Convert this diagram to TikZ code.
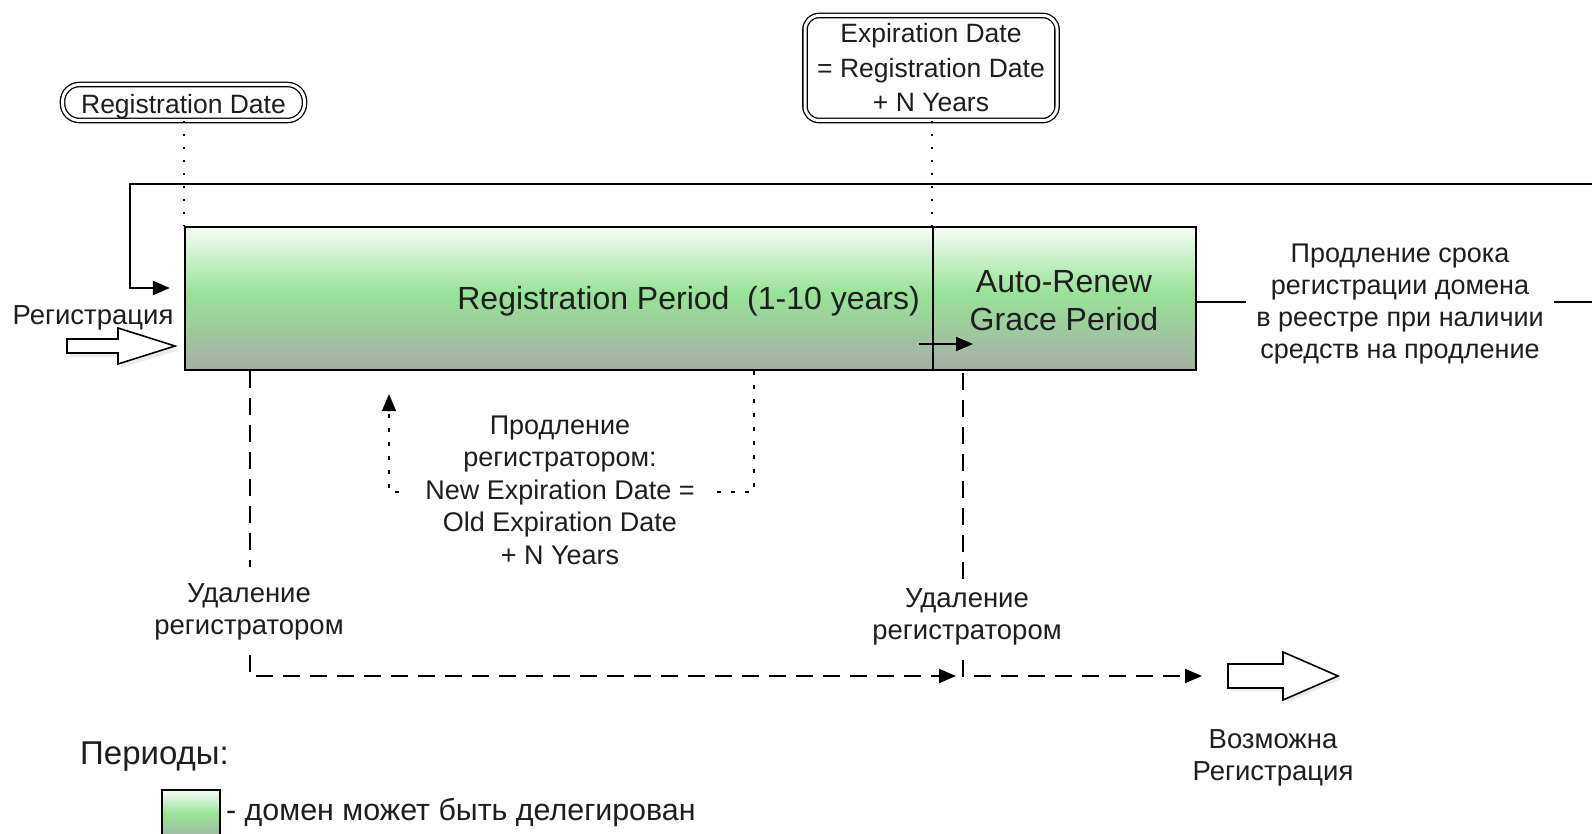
\documentclass[tikz,border=0pt]{standalone}
\usepackage{fontspec}
\setmainfont{Liberation Sans}
\usetikzlibrary{arrows.meta,calc}
\definecolor{gtop}{HTML}{F6FCF6}
\definecolor{gmid}{HTML}{98E398}
\definecolor{gbot}{HTML}{A4AEA4}
\definecolor{txt}{HTML}{1E1E1E}
\pgfdeclareverticalshading{periodshade}{100bp}{color(0bp)=(gbot); color(25bp)=(gbot); color(52bp)=(gmid); color(75bp)=(gtop); color(100bp)=(gtop)}
\tikzset{
  lbl/.style={font=\fontsize{27.5}{32}\selectfont, align=center, inner sep=2pt, text=txt},
  big/.style={font=\fontsize{32}{38}\selectfont, align=center, text=txt},
  period/.style={draw=black, line width=2.2pt, shading=periodshade, inner sep=0pt},
  conn/.style={line width=2pt},
  dsh/.style={line width=2pt, dash pattern=on 17pt off 10pt},
  dtt/.style={line width=1.6pt, dash pattern=on 2pt off 11pt},
  dtt2/.style={line width=1.6pt, dash pattern=on 4pt off 10pt},
  tip/.style={-{Triangle[length=17pt,width=14pt]}},
  hollow/.style={draw=black, line width=1.6pt, fill=white},
  shadowpoly/.style={fill=black, opacity=0.08},
  datebox/.style={draw=black, double=white, double distance=3pt, line width=1.3pt, inner sep=0pt, text=txt}
}
\begin{document}
\begin{tikzpicture}[x=1pt,y=-1pt]
\useasboundingbox (0,0) rectangle (1592,834);
\clip (0,0) rectangle (1592,834);
\fill[white] (0,0) rectangle (1592,834);

% period boxes
\node[period, minimum width=748pt, minimum height=143pt] (regper) at (559,298.5) {};
\node[period, minimum width=263pt, minimum height=143pt] (grace) at (1064.5,298.5) {};
\node[big, inner sep=0pt] (gracetxt) at (1064,301) {Auto-Renew\\Grace Period};
\node[big, anchor=east, inner sep=0pt] (rplabel) at (920,301) {Registration Period\ \ (1-10 years)};

% date boxes
\node[datebox, rounded corners=17pt, minimum width=242pt, minimum height=36pt, text height=23pt, text depth=1pt, font=\fontsize{26.5}{30}\selectfont] (regdate) at (183.5,102.5) {Registration Date};
\node[datebox, rounded corners=14pt, minimum width=252pt, minimum height=105pt, align=center, font=\fontsize{26.5}{34.5}\selectfont] (expdate) at (931,68) {Expiration Date\\= Registration Date\\+ N Years};

\draw[dtt] (regdate.south -| regper.north west) -- (regper.north west);
\draw[dtt] (expdate.south -| grace.north west) -- (grace.north west);

% renewal loop
\node[lbl, font=\fontsize{27}{32}\selectfont, inner xsep=10pt] (renew) at (1400,304) {Продление срока\\регистрации домена\\в реестре при наличии\\средств на продление};
\coordinate (edgeT) at (1592,184);
\coordinate (edgeR) at (1592,302);
\coordinate (loopcorner) at (130,288);
\draw[conn] (grace.east |- edgeR) -- (renew.west |- edgeR);
\draw[conn] (renew.east |- edgeR) -- (edgeR);
\draw[conn, tip, shorten >=14pt] (edgeT) -| (loopcorner) -- (regper.west |- loopcorner);

% inner arrow
\coordinate (ia) at (919,344);
\coordinate (ib) at (973,344);
\draw[conn, tip] (ia) -- (ib);

% registration input arrow
\node[lbl] (regin) at (93,318) {Регистрация};
\fill[shadowpoly] (70,343) -- (121,343) -- (121,332) -- (179,350) -- (121,368) -- (121,357) -- (70,357) -- cycle;
\draw[hollow] (67,339) -- (118,339) -- (118,328) -- (175,346) -- (118,364) -- (118,353) -- (67,353) -- cycle;

% renewal by registrar (dotted loop)
\coordinate (rrA) at (754,492);
\coordinate (rrB) at (389,492);
\draw[dtt2, tip, shorten >=23pt] (regper.south -| rrA) -- (rrA) -- (rrB) -- (regper.south -| rrB);
\node[lbl, fill=white, inner xsep=20pt, inner ysep=1pt, font=\fontsize{27}{32.5}\selectfont] (renewreg) at (560,490) {Продление\\регистратором:\\New Expiration Date =\\Old Expiration Date\\+ N Years};

% deletions
\node[lbl] (del1) at (249,612) {Удаление\\регистратором};
\node[lbl] (del2) at (967,617) {Удаление\\регистратором};
\coordinate (join) at (963,676);
\coordinate (availin) at (1226,676);
\draw[dsh, shorten >=14pt] (regper.south -| 250,0) -- (del1.north -| 250,0);
\draw[dsh, tip, shorten >=7pt] (del1.south -| 250,0) ++(0,12) |- (join);
\draw[dsh] (grace.south -| join) ++(0,2) -- (del2.north -| join);
\draw[dsh, tip, shorten >=24pt] (del2.south -| join) ++(0,12) -- (join) -- (availin);

% available registration arrow
\fill[shadowpoly] (1231,667) -- (1286,667) -- (1286,656) -- (1342,679) -- (1286,703) -- (1286,691) -- (1231,691) -- cycle;
\draw[hollow] (1228,664) -- (1283,664) -- (1283,652) -- (1338,676) -- (1283,700) -- (1283,688) -- (1228,688) -- cycle;
\node[lbl] (avail) at (1273,758) {Возможна\\Регистрация};

% legend
\node[anchor=west, inner sep=0pt, font=\fontsize{33}{36}\selectfont, text=txt] (periods) at (80,757) {Периоды:};
\node[period, line width=1.8pt, minimum width=58pt, minimum height=52pt] (legsq) at (191,816) {};
\node[anchor=west, inner sep=0pt, font=\fontsize{30.4}{34}\selectfont, text=txt] (legtxt) at (226,812) {- домен может быть делегирован};
\end{tikzpicture}
\end{document}
